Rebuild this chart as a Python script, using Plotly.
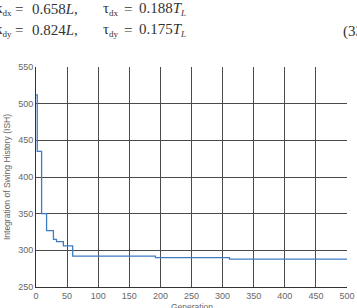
import plotly.graph_objects as go

# step data: generation at which best value changes, and value
gens = [0, 2, 9, 17, 28, 33, 44, 59, 192, 311, 500]
ish = [512, 435, 350, 327, 315, 312, 306, 292, 290, 288, 288]

x_ticks = [0, 50, 100, 150, 200, 250, 300, 350, 400, 450, 500]
y_ticks = [250, 300, 350, 400, 450, 500, 550]
x_title = "Generation"
y_title = "Integration of Swing History (ISH)"

W, H = 357, 308
L, R, T, B = 36, 10, 67, 21
pw = W - L - R
ph = H - T - B

fig = go.Figure()
fig.add_trace(go.Scatter(x=gens, y=ish, mode="lines", line=dict(shape="hv", color="#3f7cc4", width=1.3),
                         showlegend=False))

gridc = "#4a4a4a"
tf = dict(family="Liberation Sans", size=9, color="#666")
fig.update_xaxes(range=[0, 500], tickvals=x_ticks, showgrid=True, gridcolor=gridc, gridwidth=1,
                 zeroline=False, showline=True, linecolor="#333", linewidth=1, automargin=False,
                 ticks="", tickfont=tf)
fig.update_yaxes(range=[250, 550], tickvals=y_ticks, showgrid=True, gridcolor=gridc, gridwidth=1,
                 zeroline=False, showline=True, linecolor="#333", linewidth=1, automargin=False,
                 ticks="", tickfont=tf,
                 title=dict(text=y_title,
                            font=dict(family="Liberation Sans", size=8.5, color="#666"), standoff=6))

def px(x):
    return (x - L) / pw

def py(y):
    return 1 - (y - T) / ph

fig.add_annotation(x=0.5, y=py(307), xref="paper", yref="paper", text=x_title, showarrow=False,
                   xanchor="center", yanchor="middle",
                   font=dict(family="Liberation Sans", size=8.5, color="#666"))

serif = dict(family="Liberation Serif", size=15, color="#333")
sub = "<sub><span style='font-size:9px'>%s</span></sub>"
# (x, y, text, anchor)
texts = [
    (14, 9, "k" + sub % "dx", "right"),
    (19, 9, "=", "center"),
    (30, 9, "0.658<i>L</i>,", "left"),
    (101, 9, "τ" + sub % "dx", "left"),
    (128, 9, "=", "center"),
    (137, 9, "0.188<i>T</i>" + sub % "<i>L</i>", "left"),
    (14, 30, "k" + sub % "dy", "right"),
    (19, 30, "=", "center"),
    (30, 30, "0.824<i>L</i>,", "left"),
    (101, 30, "τ" + sub % "dy", "left"),
    (128, 30, "=", "center"),
    (137, 30, "0.175<i>T</i>" + sub % "<i>L</i>", "left"),
    (341, 31, "(33)", "left"),
]
for x, y, t, a in texts:
    fig.add_annotation(x=px(x), y=py(y), xref="paper", yref="paper", text=t, showarrow=False,
                       xanchor=a, yanchor="middle", font=serif)

fig.update_layout(width=W, height=H, margin=dict(l=L, r=R, t=T, b=B),
                  plot_bgcolor="white", paper_bgcolor="white")
fig.write_html("out.html")
